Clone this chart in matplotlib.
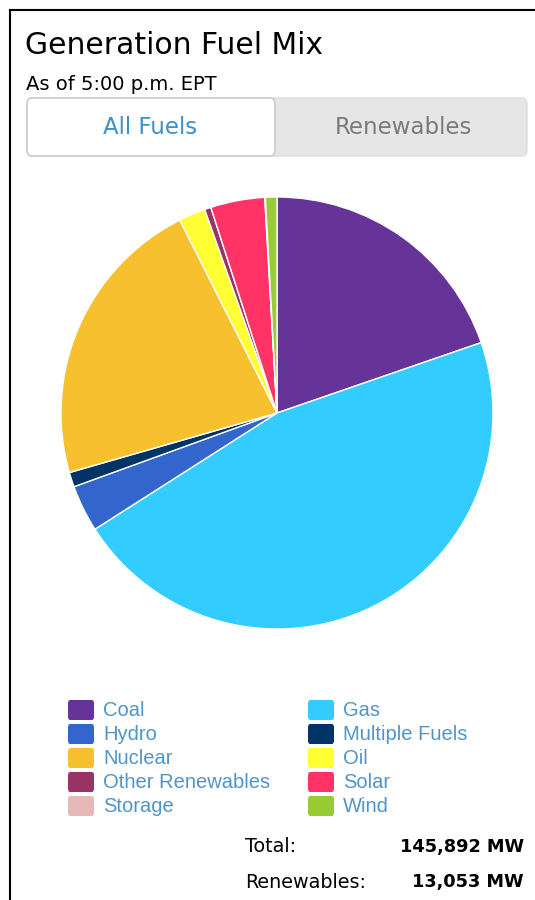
import matplotlib.pyplot as plt
from matplotlib.patches import FancyBboxPatch

# fuel mix (MW)
fuels = ["Coal", "Gas", "Hydro", "Multiple Fuels", "Nuclear",
         "Oil", "Other Renewables", "Solar", "Storage", "Wind"]
mw = [28740, 67400, 5100, 1600, 32100, 2900, 700, 5900, 70, 1250]
colors = ["#663399", "#33ccff", "#3366cc", "#003366", "#f6c02e",
          "#ffff33", "#993366", "#ff3366", "#e6b8b8", "#99cc33"]
total_label = "145,892 MW"
renew_label = "13,053 MW"

W, H = 535, 900
fig = plt.figure(figsize=(W / 100, H / 100), dpi=100)

def fx(px):
    return px / W

def fy(py):
    return 1 - py / H

# frame
fig.add_artist(plt.Line2D([fx(10), fx(10)], [fy(10), 0], color="black", lw=1.5))
fig.add_artist(plt.Line2D([fx(10), 1], [fy(10), fy(10)], color="black", lw=1.5))

fig.text(fx(25), fy(45), "Generation Fuel Mix", fontsize=21.5, va="center",
         family="DejaVu Sans")
fig.text(fx(26), fy(84), "As of 5:00 p.m. EPT", fontsize=14, va="center",
         family="DejaVu Sans")

# toggle buttons
btn_r = FancyBboxPatch((fx(27), fy(156)), fx(500), fy(98) - fy(156),
                       boxstyle="round,pad=0,rounding_size=0.008",
                       transform=fig.transFigure, fc="#e6e6e6", ec="#dddddd", lw=1)
fig.add_artist(btn_r)
btn_l = FancyBboxPatch((fx(27), fy(156)), fx(248), fy(98) - fy(156),
                       boxstyle="round,pad=0,rounding_size=0.008",
                       transform=fig.transFigure, fc="white", ec="#cccccc", lw=1.2)
fig.add_artist(btn_l)
fig.text(fx(150), fy(127), "All Fuels", fontsize=16.5, color="#3f8fc9",
         ha="center", va="center", family="DejaVu Sans")
fig.text(fx(403), fy(127), "Renewables", fontsize=16.5, color="#7a7a7a",
         ha="center", va="center", family="DejaVu Sans")

# pie
ax = fig.add_axes([fx(61), fy(629), fx(432), fy(197) - fy(629)])
ax.pie(mw, colors=colors, startangle=90, counterclock=False,
       wedgeprops=dict(edgecolor="white", linewidth=1))
ax.set_xlim(-1, 1)
ax.set_ylim(-1, 1)
ax.set_aspect("equal")
ax.axis("off")

# legend, two columns
for i, (name, c) in enumerate(zip(fuels, colors)):
    col = i % 2
    row = i // 2
    x0 = 68 if col == 0 else 308
    y0 = 710 + row * 24
    sw = FancyBboxPatch((fx(x0), fy(y0 + 10)), fx(26), fy(y0 - 10) - fy(y0 + 10),
                        boxstyle="round,pad=0,rounding_size=0.004",
                        transform=fig.transFigure, fc=c, ec="none")
    fig.add_artist(sw)
    fig.text(fx(x0 + 35), fy(y0 + 1), name, fontsize=14.5, color="#4f95cc",
             va="center", family="Liberation Sans")

# totals
fig.text(fx(245), fy(847), "Total:", fontsize=13.8, va="center", family="DejaVu Sans")
fig.text(fx(524), fy(847), total_label, fontsize=12.8, va="center", ha="right",
         weight="bold", family="DejaVu Sans")
fig.text(fx(245), fy(882), "Renewables:", fontsize=13.8, va="center", family="DejaVu Sans")
fig.text(fx(524), fy(882), renew_label, fontsize=12.8, va="center", ha="right",
         weight="bold", family="DejaVu Sans")

fig.savefig("out.png", dpi=100)
